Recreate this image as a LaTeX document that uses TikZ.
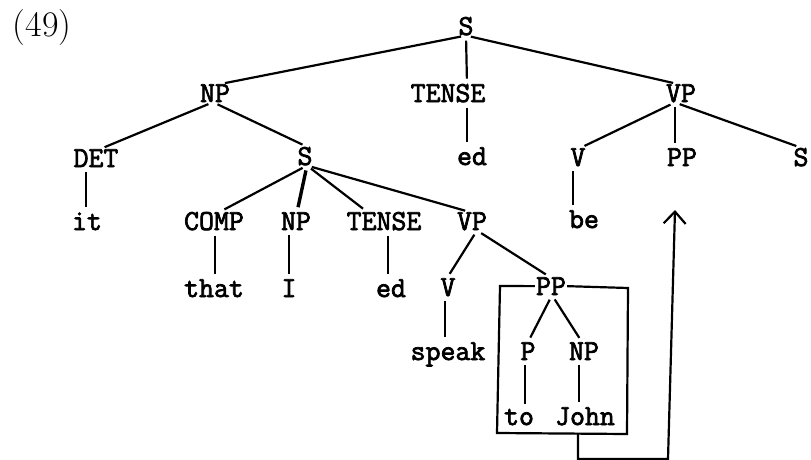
\documentclass[tikz,border=0pt]{standalone}
\usepackage{fontspec}
\newfontfamily\tw{Latin Modern Mono}[FakeBold=2.5]
\newfontfamily\numfont{Latin Modern Roman}
\usetikzlibrary{arrows.meta}
\begin{document}
\begin{tikzpicture}[x=1pt,y=-1pt,
  lab/.style={anchor=base,inner sep=0pt,font=\tw\fontsize{29}{34}\selectfont},
  br/.style={line width=2.2pt,shorten <=5pt,shorten >=5pt},
  thk/.style={line width=3.4pt,shorten <=5pt,shorten >=5pt},
  frame/.style={line width=2.2pt},
  flow/.style={line width=2.2pt,-{Straight Barb[length=12pt,width=22pt,line width=2.2pt]}}]
\useasboundingbox (0,0) rectangle (811,460);
\node[anchor=center,inner sep=0pt] (num) at (42,28) {\numfont\fontsize{36}{40}\selectfont (49)};
% row 1
\node[lab] (s0) at (466,35) {S};
% row 2
\node[lab] (np1) at (215,102) {NP};
\node[lab] (tense1) at (448,102) {TENSE};
\node[lab] (vp1) at (681,102) {VP};
% row 3
\node[lab] (det) at (96,167) {DET};
\node[lab] (s2) at (305,165) {S};
\node[lab] (ed1) at (472,165) {ed};
\node[lab] (v1) at (578,166) {V};
\node[lab] (pp1) at (682,166) {PP};
\node[lab] (s3) at (801,166) {S};
% row 4
\node[lab] (it) at (87,230) {it};
\node[lab] (comp) at (214,230) {COMP};
\node[lab] (np2) at (296,230) {NP};
\node[lab] (tense2) at (384,230) {TENSE};
\node[lab] (vp2) at (472,230) {VP};
\node[lab] (be) at (584,228) {be};
% row 5
\node[lab] (that) at (214,297) {that};
\node[lab] (i) at (289,297) {I};
\node[lab] (ed2) at (391,297) {ed};
\node[lab] (v2) at (448,296) {V};
\node[lab] (pp2) at (551,295) {PP};
% row 6
\node[lab] (speak) at (448,360) {speak};
\node[lab] (p) at (528,360) {P};
\node[lab] (np3) at (584,360) {NP};
% row 7
\node[lab] (to) at (519,425) {to};
\node[lab] (john) at (585,425) {John};
% branches
\draw[br] (s0.south) -- ([xshift=5pt]np1.north);
\draw[br] (s0.south) -- ([xshift=19pt]tense1.north);
\draw[br] (s0.south) -- ([xshift=-3pt]vp1.north);
\draw[br] ([xshift=-2pt]np1.south) -- ([xshift=4pt]det.north);
\draw[br] ([xshift=-2pt]np1.south) -- ([xshift=2pt]s2.north);
\draw[br] ([xshift=19pt]tense1.south) -- ([xshift=-5pt]ed1.north);
\draw[br] ([xshift=-6pt]vp1.south) -- ([xshift=2pt]v1.north);
\draw[br] ([xshift=-6pt]vp1.south) -- ([xshift=-7pt]pp1.north);
\draw[br] ([xshift=-6pt]vp1.south) -- (s3.north);
\draw[br] ([xshift=-10pt]det.south) -- ([xshift=-1pt]it.north);
\draw[br] ([xshift=2pt]s2.south) -- ([xshift=6pt]comp.north);
\draw[thk] ([xshift=2pt]s2.south) -- ([xshift=1pt]np2.north);
\draw[br] ([xshift=2pt]s2.south) -- ([xshift=-17pt]tense2.north);
\draw[br] ([xshift=2pt]s2.south) -- ([xshift=-2pt]vp2.north);
\draw[br] ([xshift=-5pt]v1.south) -- ([xshift=-11pt]be.north);
\draw[br] ([xshift=1pt]comp.south) -- ([xshift=1pt]that.north);
\draw[br] ([xshift=-7pt]np2.south) -- (i.north);
\draw[br] ([xshift=4pt]tense2.south) -- ([xshift=-3pt]ed2.north);
\draw[br] ([xshift=5pt]vp2.south) -- ([xshift=-1pt]v2.north);
\draw[br] ([xshift=5pt]vp2.south) -- ([xshift=-1pt]pp2.north);
\draw[br] ([xshift=-3pt]v2.south) -- ([xshift=-3pt]speak.north);
\draw[br] ([xshift=1pt]pp2.south) -- (p.north);
\draw[br] ([xshift=1pt]pp2.south) -- ([xshift=-2pt]np3.north);
\draw[br] ([xshift=-3pt]p.south) -- ([xshift=6pt]to.north);
\draw[br] ([xshift=-5pt]np3.south) -- ([xshift=-6pt]john.north);
% box round the lower PP
\draw[frame] ([xshift=-1pt]pp2.west) -- (500,286) -- (497,433) -- (627,434) -- (628,288) -- ([xshift=1pt]pp2.east);
\coordinate (boxout) at (578,433.5);
\coordinate (target) at (675,210);
\draw[flow] (boxout) -- (578,459) -- (668,459) -- (target);
\end{tikzpicture}
\end{document}
